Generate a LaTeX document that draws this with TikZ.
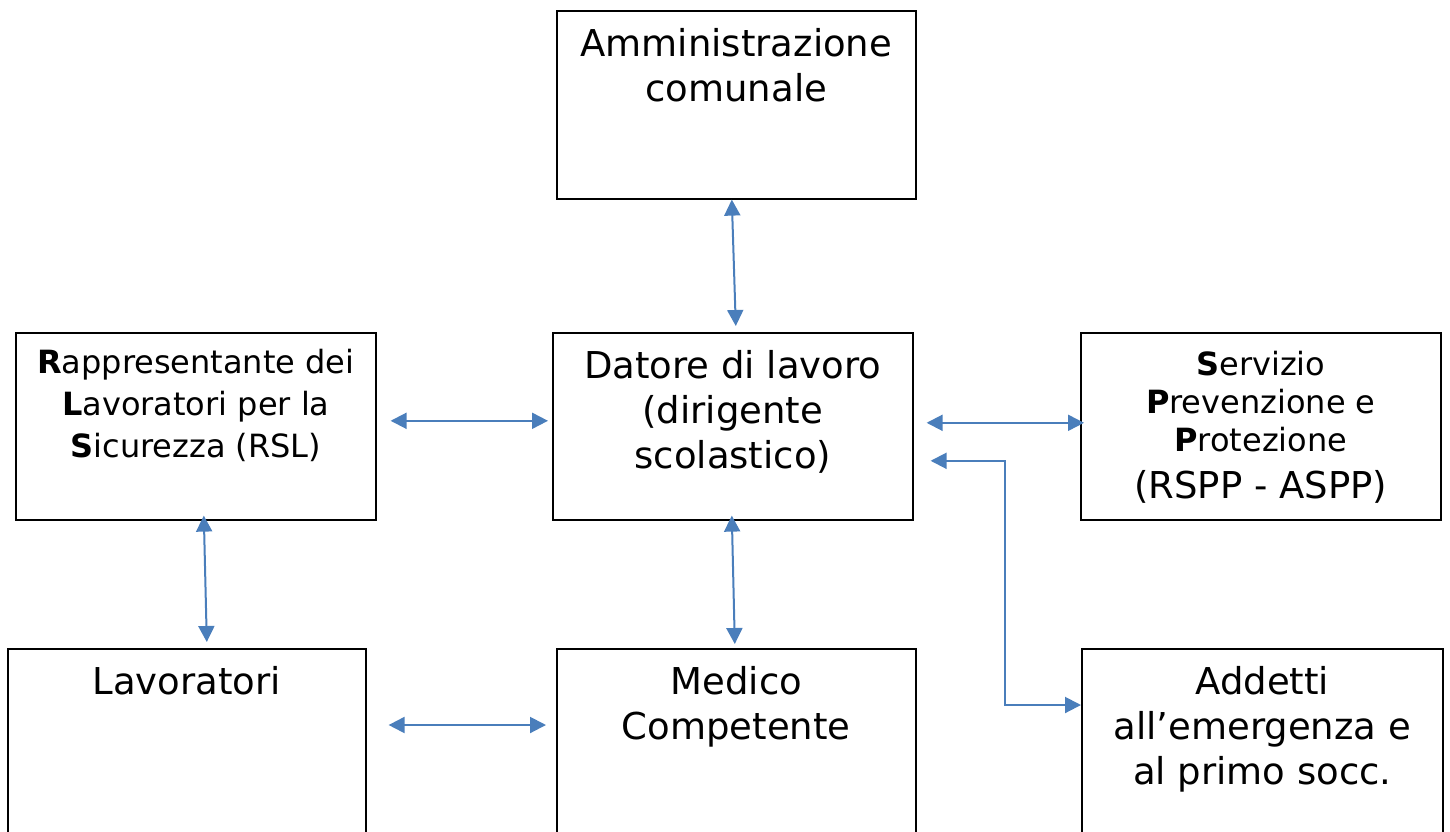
\documentclass[tikz,border=0pt]{standalone}
\usepackage{fontspec}
\setmainfont{DejaVu Sans}
\usepackage{xcolor}
\usetikzlibrary{positioning,calc,arrows.meta}
\definecolor{linkblue}{HTML}{4A7EBB}

\begin{document}
\begin{tikzpicture}[x=1pt,y=-1pt,
    box/.style={draw, line width=1.6pt, anchor=north west, inner sep=0pt},
    txt/.style={anchor=north, align=center, inner sep=0pt, font=\fontsize{37}{45}\selectfont},
    small/.style={font=\fontsize{32}{42}\selectfont},
    link/.style={draw=linkblue, line width=2pt, {Triangle[length=16pt,width=16pt]}-{Triangle[length=16pt,width=16pt]}}]
    \useasboundingbox (0,0) rectangle (1450,831);
    \clip (0,0) rectangle (1450,831);

    % Boxes
    \node[box, minimum width=359pt, minimum height=188pt] (adm) at (556,10) {};
    \node[box, minimum width=360pt, minimum height=187pt] (rsl) at (15,332) {};
    \node[box, minimum width=360pt, minimum height=187pt] (dat) at (552,332) {};
    \node[box, minimum width=360pt, minimum height=187pt] (spp) at (1080,332) {};
    \node[box, minimum width=358pt, minimum height=200pt] (lav) at (7,648) {};
    \node[box, minimum width=359pt, minimum height=200pt] (med) at (556,648) {};
    \node[box, minimum width=361pt, minimum height=200pt] (add) at (1081,648) {};

    % Texts
    \node[txt] (adm-t) at ([yshift=-18pt]adm.north) {Amministrazione\\comunale};
    \node[txt, small] (rsl-t) at ([yshift=-17pt]rsl.north) {\textbf{R}appresentante dei\\\textbf{L}avoratori per la\\\textbf{S}icurezza (RSL)};
    \node[txt] (dat-t) at ([yshift=-18pt]dat.north) {Datore di lavoro\\(dirigente\\scolastico)};
    \node[txt, font=\fontsize{32}{38}\selectfont] (spp-t) at ([yshift=-19pt]spp.north) {\textbf{S}ervizio\\\textbf{P}revenzione e\\\textbf{P}rotezione\\[9pt]{\fontsize{37}{45}\selectfont (RSPP - ASPP)}};
    \node[txt] (lav-t) at ([yshift=-18pt]lav.north) {Lavoratori};
    \node[txt] (med-t) at ([yshift=-18pt]med.north) {Medico\\Competente};
    \node[txt] (add-t) at ([yshift=-18pt]add.north) {Addetti\\all’emergenza e\\al primo socc.};

    % Arrows
    \draw[link] ([xshift=-4.5pt]adm.south) -- ([xshift=3pt,yshift=6pt]dat.north);
    \draw[link] ([xshift=14pt,yshift=5.5pt]rsl.east) -- ([xshift=-4pt,yshift=5.5pt]dat.west);
    \draw[link] ([xshift=13pt,yshift=3.5pt]dat.east) -- ([xshift=4pt,yshift=3.5pt]spp.west);
    \draw[link] ([xshift=17pt,yshift=-34.5pt]dat.east) -- ++(74pt,0) |- ([yshift=-57pt]add.north west);
    \draw[link] ([xshift=8pt,yshift=5pt]rsl.south) -- ([xshift=20pt,yshift=6pt]lav.north);
    \draw[link] ([xshift=-1pt,yshift=5pt]dat.south) -- ([xshift=-1.5pt,yshift=4pt]med.north);
    \draw[link] ([xshift=22pt,yshift=-77pt]lav.north east) -- ([xshift=-10pt,yshift=-77pt]med.north west);
\end{tikzpicture}
\end{document}
